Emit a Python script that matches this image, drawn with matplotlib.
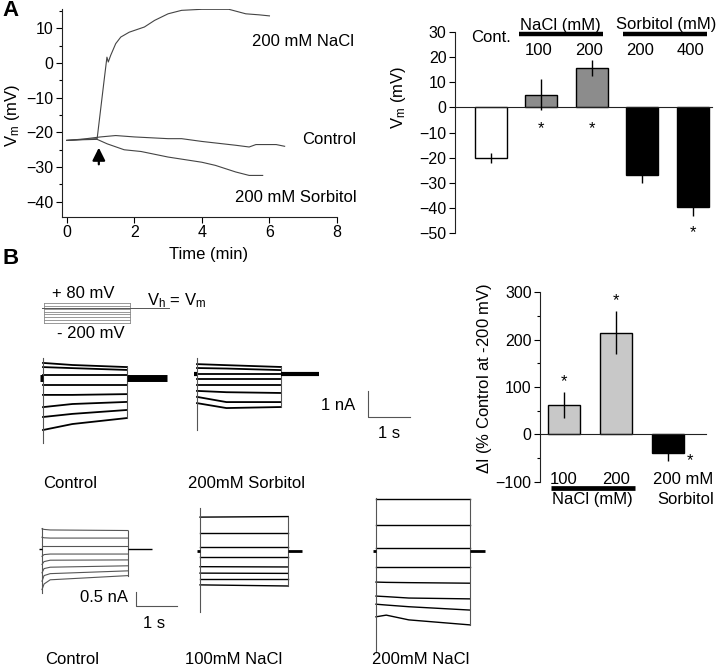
import matplotlib
matplotlib.use('Agg')
import matplotlib.pyplot as plt
import numpy as np

plt.rcParams['font.family'] = ['Liberation Sans', 'DejaVu Sans']
plt.rcParams['mathtext.default'] = 'regular'
plt.rcParams['font.size'] = 12

W, H = 716, 668

# ---- A, left: membrane potential vs time (min, mV)
t_control = [0, 0.5, 1.0, 1.45, 2.0, 3.0, 3.4, 4.0, 5.0, 5.4, 5.6, 6.2, 6.45]
vm_control = [-22.3, -21.9, -21.3, -20.9, -21.3, -21.8, -21.8, -22.6, -23.7, -24.2, -23.5, -23.5, -24.0]
t_nacl = [0, 0.5, 0.9, 1.1, 1.19, 1.23, 1.3, 1.45, 1.6, 1.85, 2.0, 2.3, 2.6, 3.0, 3.4, 4.0, 4.8, 5.3, 5.7, 6.0]
vm_nacl = [-22.3, -22.0, -21.8, -5.5, 1.7, 0.3, 2.2, 5.6, 7.5, 8.9, 9.4, 10.4, 12.3, 14.2, 15.2, 15.5, 15.5, 14.2, 13.9, 13.6]
t_sorb = [0, 0.5, 0.9, 1.2, 1.7, 2.2, 3.0, 4.0, 4.4, 5.0, 5.4, 5.8]
vm_sorb = [-22.3, -22.1, -22.0, -23.3, -25.0, -25.5, -27.1, -28.6, -29.5, -31.4, -32.4, -32.4]
t_addition = 0.95

# ---- A, right: mean Vm per treatment
vm_groups = ['Cont.', '100', '200', '200', '400']
vm_mean = [-20, 5, 15.5, -27, -39.5]
vm_err = [2.0, 6.2, 3.2, 3.0, 3.8]
vm_signif = [False, True, True, False, True]

# ---- B, right: current change at -200 mV
di_groups = ['100', '200', '200 mM']
di_mean = [62, 215, -40]
di_err = [28, 45, 17]

# ---- B: voltage protocol (mV) and current traces (nA rel. to holding)
v_steps = [80, 40, 0, -40, -80, -120, -160, -200]
v_hold = -20
pulse_s = 2.0

t_ctrl_top = [0, 0.7, 2.0]
i_ctrl_top = [[0.58, 0.50, 0.42], [0.42, 0.38, 0.31], [0.12, 0.12, 0.12],
              [-0.27, -0.27, -0.27], [-0.65, -0.65, -0.62], [-1.12, -1.00, -0.92],
              [-1.50, -1.38, -1.23], [-2.00, -1.77, -1.54]]
t_sorb_top = [0, 0.7, 2.0]
i_sorb_top = [[0.38, 0.34, 0.27], [0.23, 0.21, 0.15], [0.0, 0.0, 0.0],
              [-0.19, -0.19, -0.19], [-0.42, -0.42, -0.42], [-0.65, -0.70, -0.73],
              [-0.88, -1.08, -1.08], [-1.12, -1.31, -1.27]]
t_ctrl_bot = [0, 0.05, 0.2, 2.1]
i_ctrl_bot = [[0.72, 0.70, 0.68, 0.66], [0.42, 0.40, 0.39, 0.39], [0.11, 0.11, 0.11, 0.11],
              [-0.26, -0.20, -0.18, -0.18], [-0.55, -0.45, -0.40, -0.39],
              [-0.85, -0.70, -0.65, -0.60], [-1.15, -0.95, -0.88, -0.78],
              [-1.45, -1.25, -1.10, -0.95]]
t_nacl100 = [0, 2.15]
i_nacl100 = [[1.21, 1.23], [0.65, 0.65], [0.14, 0.14], [-0.21, -0.21],
             [-0.56, -0.57], [-0.79, -0.80], [-1.00, -1.00], [-1.21, -1.25]]
t_nacl200 = [0, 0.25, 0.8, 2.3]
i_nacl200 = [[1.86, 1.86, 1.86, 1.86], [0.93, 0.93, 0.93, 0.93], [0.11, 0.11, 0.11, 0.11],
             [-0.57, -0.57, -0.57, -0.57], [-1.11, -1.12, -1.13, -1.15],
             [-1.61, -1.63, -1.68, -1.71], [-1.90, -1.93, -1.99, -2.11],
             [-2.35, -2.29, -2.46, -2.64]]
# capacitive transient extent (nA) at pulse onset
spike_ctrl_top = [-2.5, 0.77]
spike_sorb_top = [-2.15, 0.62]
spike_ctrl_bot = [-1.57, 0.75]
spike_nacl100 = [-2.18, 1.54]
spike_nacl200 = [-3.61, 1.89]

fig = plt.figure(figsize=(W / 100, H / 100), dpi=100)


def rect(x0, y0, x1, y1):
    return [x0 / W, 1 - y1 / H, (x1 - x0) / W, (y1 - y0) / H]


def label(x, y, s, **kw):
    kw.setdefault('va', 'center')
    fig.text(x / W, 1 - y / H, s, **kw)


def style_axis(ax):
    for side in ['top', 'right']:
        ax.spines[side].set_visible(False)
    for side in ['left', 'bottom']:
        ax.spines[side].set_linewidth(0.8)
        ax.spines[side].set_color('#222222')


# ---------------- A left
ax = fig.add_axes(rect(62, 9.3, 337, 216.7))
style_axis(ax)
ax.plot(t_control, vm_control, color='#444444', lw=0.8)
ax.plot(t_nacl, vm_nacl, color='#444444', lw=0.8)
ax.plot(t_sorb, vm_sorb, color='#444444', lw=0.8)
ax.annotate('', xy=(t_addition, -23.6), xytext=(t_addition, -30),
            arrowprops=dict(arrowstyle='-|>', color='black', lw=1.6, mutation_scale=19))
ax.set_xlim(-0.14, 8)
ax.set_ylim(-44.3, 15.5)
ax.set_xticks([0, 2, 4, 6, 8])
ax.set_yticks(range(-40, 11, 10))
ax.set_yticks(range(-40, 16, 5), minor=True)
ax.tick_params(labelsize=11.5, length=4, width=0.8, pad=2)
ax.tick_params(which='minor', length=2.5, width=0.8)
label(209, 255, 'Time (min)', ha='center')
label(13, 115, 'V$_m$ (mV)', ha='center', rotation=90)
label(252, 42, '200 mM NaCl')
label(302, 140, 'Control')
label(235, 198, '200 mM Sorbitol')
label(2, 10, 'A', fontsize=16, fontweight='bold')
label(2, 259, 'B', fontsize=16, fontweight='bold')

# ---------------- A right
ax = fig.add_axes(rect(455, 31.7, 712, 233.3))
style_axis(ax)
xa = np.arange(len(vm_mean))
bar_colors_a = ['white', '#8c8c8c', '#8c8c8c', 'black', 'black']
ax.bar(xa, vm_mean, width=0.63, color=bar_colors_a, edgecolor='black', linewidth=1, zorder=2)
ax.errorbar(xa, vm_mean, yerr=vm_err, fmt='none', ecolor='black', elinewidth=1, capsize=0, zorder=3)
ax.spines['bottom'].set_position(('data', 0))
ax.set_xticks([])
ax.set_xlim(-0.71, 4.38)
ax.set_ylim(-50, 30)
ax.set_yticks(range(-50, 31, 10))
ax.tick_params(labelsize=11.5, length=4, width=0.8, pad=2)
for i, s in enumerate(vm_signif):
    if s:
        ax.text(xa[i], vm_mean[i] - vm_err[i] - 6.5 if vm_mean[i] < 0 else -8.5, '*',
                ha='center', va='center', fontsize=12)
ax.text(xa[0], 27.6, vm_groups[0], ha='center', va='center', fontsize=12, clip_on=False)
for i in range(1, len(vm_groups)):
    ax.text(xa[i] - 0.05, 22.6, vm_groups[i], ha='center', va='center', fontsize=12)
ax.plot([0.55, 2.22], [29, 29], color='black', lw=3.2, solid_capstyle='butt', clip_on=False)
ax.plot([2.61, 4.28], [29, 29], color='black', lw=3.2, solid_capstyle='butt', clip_on=False)
ax.text(1.38, 32.6, 'NaCl (mM)', ha='center', va='center', fontsize=12, clip_on=False)
ax.text(3.47, 32.9, 'Sorbitol (mM)', ha='center', va='center', fontsize=12, clip_on=False)
label(399, 97, 'V$_m$ (mV)', ha='center', rotation=90)

# ---------------- B right
ax = fig.add_axes(rect(540, 292.3, 706, 481.7))
style_axis(ax)
xb = np.arange(len(di_mean))
bar_colors_b = ['#c8c8c8', '#c8c8c8', 'black']
ax.bar(xb, di_mean, width=0.6, color=bar_colors_b, edgecolor='black', linewidth=1, zorder=2)
ax.errorbar(xb, di_mean, yerr=di_err, fmt='none', ecolor='black', elinewidth=1, capsize=0, zorder=3)
ax.spines['bottom'].set_position(('data', 0))
ax.set_xticks([])
ax.set_xlim(-0.46, 2.73)
ax.set_ylim(-100, 300)
ax.set_yticks(range(-100, 301, 100))
ax.set_yticks(range(-100, 301, 50), minor=True)
ax.tick_params(labelsize=11.5, length=4, width=0.8, pad=2)
ax.tick_params(which='minor', length=2.5, width=0.8)
ax.text(xb[0], di_mean[0] + di_err[0] + 22, '*', ha='center', va='center', fontsize=12)
ax.text(xb[1], di_mean[1] + di_err[1] + 22, '*', ha='center', va='center', fontsize=12)
ax.text(xb[2] + 0.42, di_mean[2] - di_err[2] + 1, '*', ha='center', va='center', fontsize=12)
for i, g in enumerate(di_groups):
    ax.text(xb[i] + (0.3 if i == 2 else 0), -96, g, ha='center', va='center', fontsize=12, clip_on=False)
ax.plot([-0.25, 1.37], [-114, -114], color='black', lw=3.4, solid_capstyle='butt', clip_on=False)
ax.text(0.55, -137, 'NaCl (mM)', ha='center', va='center', fontsize=12, clip_on=False)
ax.text(2.33, -137, 'Sorbitol', ha='center', va='center', fontsize=12, clip_on=False)
label(485, 378, r'$\Delta$I (% Control at -200 mV)', ha='center', rotation=90)


# ---------------- B traces
def trace_axes(x0, y0, px_s, px_unit, t_lo, t_hi, lo, hi):
    # axes whose data units are s and nA (or mV); value 0 sits on pixel row y0
    left, right = x0 + t_lo * px_s, x0 + t_hi * px_s
    top, bottom = y0 - hi * px_unit, y0 - lo * px_unit
    a = fig.add_axes(rect(left, top, right, bottom))
    a.set_xlim(t_lo, t_hi)
    a.set_ylim(lo, hi)
    a.axis('off')
    return a


def draw_family(a, t, rows, spike, color, lw, tail_end, tail_lw):
    for r in rows:
        a.plot(t, r, color=color, lw=lw, solid_joinstyle='round')
    ends = [r[-1] for r in rows]
    a.plot([0, 0], spike, color='#555555', lw=0.8)
    a.plot([t[-1], t[-1]], [min(ends), max(ends)], color='#555555', lw=0.8)
    a.plot([-0.08, 0], [0, 0], color='black', lw=tail_lw, solid_capstyle='butt')
    a.plot([t[-1], tail_end], [0, 0], color='black', lw=tail_lw, solid_capstyle='butt')


# voltage protocol
a = trace_axes(44, 308.7, 43, 20 / 280, -0.1, 3.0, -210, 90)
for v in v_steps:
    a.plot([0, pulse_s], [v, v], color='#888888', lw=0.6)
a.plot([0, 0], [v_steps[-1], v_steps[0]], color='#888888', lw=0.6)
a.plot([pulse_s, pulse_s], [v_steps[-1], v_steps[0]], color='#888888', lw=0.6)
a.plot([-0.05, 2.9], [v_hold + 30, v_hold + 30], color='#555555', lw=0.7)
label(52, 294, '+ 80 mV')
label(57, 333, '- 200 mV')
label(147, 301, 'V$_h$ = V$_m$')

a = trace_axes(43, 378, 42, 26, -0.1, 3.0, -2.6, 0.9)
draw_family(a, t_ctrl_top, i_ctrl_top, spike_ctrl_top, 'black', 1.3, 2.95, 5.0)
a = trace_axes(197, 374, 42, 26, -0.1, 3.0, -2.6, 0.9)
draw_family(a, t_sorb_top, i_sorb_top, spike_sorb_top, 'black', 1.3, 2.9, 3.0)
a = trace_axes(368, 417, 42, 26, -0.1, 1.1, -0.1, 1.1)
a.plot([0, 0, 1], [1, 0, 0], color='#555555', lw=0.8)
label(355, 405, '1 nA', ha='right')
label(389, 433, '1 s', ha='center')
label(43, 483, 'Control')
label(188, 483, '200mM Sorbitol')

a = trace_axes(42, 549, 41, 28, -0.1, 3.0, -1.8, 1.0)
draw_family(a, t_ctrl_bot, i_ctrl_bot, spike_ctrl_bot, '#555555', 0.8, 2.68, 1.0)
a = trace_axes(200, 551, 41, 28, -0.1, 3.0, -2.4, 1.7)
draw_family(a, t_nacl100, i_nacl100, spike_nacl100, 'black', 1.0, 2.49, 2.0)
a = trace_axes(376, 551, 41, 28, -0.1, 3.0, -3.8, 2.0)
draw_family(a, t_nacl200, i_nacl200, spike_nacl200, 'black', 1.0, 2.66, 2.0)
a = trace_axes(136, 606, 41, 28, -0.1, 1.1, -0.1, 0.6)
a.plot([0, 0, 1], [0.5, 0, 0], color='#555555', lw=0.8)
label(128, 598, '0.5 nA', ha='right')
label(154, 623, '1 s', ha='center')
label(45, 660, 'Control')
label(185, 660, '100mM NaCl')
label(372, 660, '200mM NaCl')

fig.savefig('out.png', dpi=100)
